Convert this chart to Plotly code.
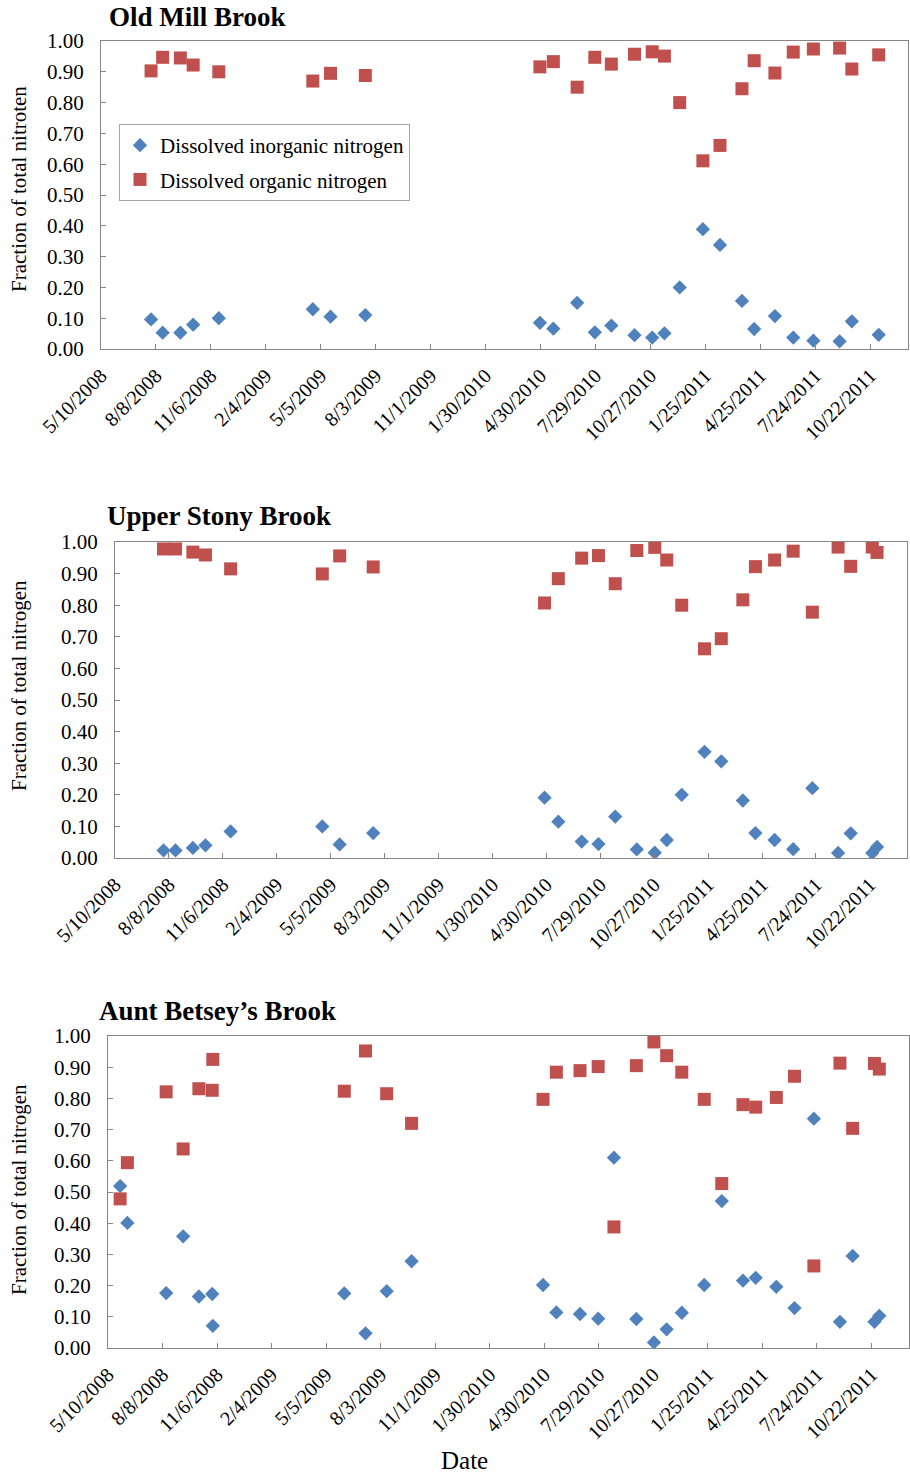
import plotly.graph_objects as go

# ---------------- data ----------------
TICK_DATES = ['2008-05-10', '2008-08-08', '2008-11-06', '2009-02-04', '2009-05-05',
              '2009-08-03', '2009-11-01', '2010-01-30', '2010-04-30', '2010-07-29',
              '2010-10-27', '2011-01-25', '2011-04-25', '2011-07-24', '2011-10-22']
TICK_LABELS = ['5/10/2008', '8/8/2008', '11/6/2008', '2/4/2009', '5/5/2009', '8/3/2009',
               '11/1/2009', '1/30/2010', '4/30/2010', '7/29/2010', '10/27/2010',
               '1/25/2011', '4/25/2011', '7/24/2011', '10/22/2011']
Y_TICKS = [0.0, 0.1, 0.2, 0.3, 0.4, 0.5, 0.6, 0.7, 0.8, 0.9, 1.0]
X_RANGE = ['2008-05-10', '2011-12-23']

TITLES = ['Old Mill Brook', 'Upper Stony Brook', 'Aunt Betsey\u2019s Brook']
Y_TITLES = ['Fraction of total nitroten', 'Fraction of total nitrogen', 'Fraction of total nitrogen']
SERIES_NAMES = ['Dissolved inorganic nitrogen', 'Dissolved organic nitrogen']

dates1 = ['2008-07-31', '2008-08-19', '2008-09-17', '2008-10-08', '2008-11-19', '2009-04-22',
          '2009-05-21', '2009-07-17', '2010-04-29', '2010-05-21', '2010-06-29', '2010-07-28',
          '2010-08-24', '2010-10-01', '2010-10-30', '2010-11-19', '2010-12-14', '2011-01-21',
          '2011-02-18', '2011-03-26', '2011-04-15', '2011-05-19', '2011-06-18', '2011-07-21',
          '2011-09-02', '2011-09-22', '2011-11-05']
din1 = [0.096, 0.053, 0.053, 0.079, 0.100, 0.129, 0.105, 0.110, 0.085, 0.066, 0.150, 0.054,
        0.076, 0.045, 0.037, 0.051, 0.200, 0.389, 0.338, 0.156, 0.065, 0.107, 0.037, 0.027,
        0.025, 0.090, 0.046]
don1 = [0.903, 0.947, 0.945, 0.922, 0.900, 0.870, 0.895, 0.888, 0.916, 0.933, 0.850, 0.947,
        0.925, 0.957, 0.965, 0.951, 0.800, 0.611, 0.661, 0.845, 0.936, 0.896, 0.964, 0.974,
        0.977, 0.909, 0.955]

dates2 = ['2008-07-30', '2008-08-19', '2008-09-17', '2008-10-08', '2008-11-19', '2009-04-21',
          '2009-05-20', '2009-07-15', '2010-04-27', '2010-05-20', '2010-06-28', '2010-07-26',
          '2010-08-23', '2010-09-28', '2010-10-28', '2010-11-17', '2010-12-12', '2011-01-19',
          '2011-02-16', '2011-03-24', '2011-04-14', '2011-05-16', '2011-06-16', '2011-07-18',
          '2011-08-30', '2011-09-20', '2011-10-26', '2011-11-03']
din2 = [0.024, 0.024, 0.032, 0.040, 0.084, 0.100, 0.043, 0.079, 0.191, 0.115, 0.052, 0.044,
        0.131, 0.027, 0.017, 0.057, 0.200, 0.336, 0.306, 0.182, 0.079, 0.057, 0.028, 0.221,
        0.016, 0.078, 0.016, 0.035]
don2 = [0.978, 0.978, 0.968, 0.959, 0.915, 0.899, 0.956, 0.921, 0.807, 0.884, 0.949, 0.957,
        0.868, 0.973, 0.983, 0.943, 0.800, 0.662, 0.694, 0.817, 0.922, 0.943, 0.971, 0.778,
        0.984, 0.923, 0.984, 0.967]

dates3 = ['2008-05-30', '2008-06-11', '2008-08-14', '2008-09-11', '2008-10-07', '2008-10-29',
          '2008-10-30', '2009-06-04', '2009-07-09', '2009-08-13', '2009-09-23', '2010-04-28',
          '2010-05-20', '2010-06-28', '2010-07-28', '2010-08-23', '2010-09-29', '2010-10-28',
          '2010-11-18', '2010-12-13', '2011-01-19', '2011-02-17', '2011-03-24', '2011-04-14',
          '2011-05-18', '2011-06-17', '2011-07-19', '2011-08-31', '2011-09-21', '2011-10-27',
          '2011-11-04']
din3 = [0.519, 0.401, 0.176, 0.358, 0.165, 0.173, 0.071, 0.175, 0.047, 0.182, 0.278, 0.202,
        0.114, 0.109, 0.094, 0.610, 0.093, 0.018, 0.060, 0.113, 0.202, 0.471, 0.216, 0.225,
        0.196, 0.128, 0.735, 0.084, 0.295, 0.084, 0.103]
don3 = [0.478, 0.594, 0.821, 0.638, 0.831, 0.826, 0.925, 0.823, 0.952, 0.815, 0.720, 0.797,
        0.884, 0.889, 0.902, 0.388, 0.905, 0.981, 0.937, 0.884, 0.797, 0.527, 0.780, 0.772,
        0.803, 0.871, 0.263, 0.913, 0.704, 0.912, 0.894]

PANELS = [(dates1, din1, don1), (dates2, din2, don2), (dates3, din3, don3)]

# ---------------- layout constants ----------------
W, H = 910, 1477
# plot areas in pixels: (left, right, top, bottom)
BOXES = [(101, 908, 41, 349), (115, 907, 542, 858), (108, 909, 1036, 1348)]
TITLE_POS = [(107, 17), (105, 516), (97, 1011)]
YTITLE_POS = [(19, 189), (19, 686), (19, 1190)]

BLUE = '#4F81BD'
RED = '#C0504D'
AXIS = '#868686'
FONT = 'Liberation Serif, Times New Roman, serif'

fig = go.Figure()
layout = dict(
    width=W, height=H,
    margin=dict(l=0, r=0, t=0, b=0, autoexpand=False),
    paper_bgcolor='white', plot_bgcolor='white',
    font=dict(family=FONT, size=20, color='black'),
    showlegend=True,
    legend=dict(x=119 / W, y=1 - 124 / H, xanchor='left', yanchor='top',
                bgcolor='white', bordercolor='#A6A6A6', borderwidth=1,
                font=dict(family=FONT, size=21, color='black'),
                tracegroupgap=4, itemwidth=30),
)
annotations = []

for i, ((dates, din, don), box) in enumerate(zip(PANELS, BOXES)):
    l, r, t, b = box
    xa = 'x' if i == 0 else f'x{i + 1}'
    ya = 'y' if i == 0 else f'y{i + 1}'
    xkey = 'xaxis' if i == 0 else f'xaxis{i + 1}'
    ykey = 'yaxis' if i == 0 else f'yaxis{i + 1}'
    fig.add_trace(go.Scatter(
        x=dates, y=din, mode='markers', name=SERIES_NAMES[0],
        marker=dict(symbol='diamond', size=11, color=BLUE),
        xaxis=xa, yaxis=ya, showlegend=(i == 0), legendgroup='a'))
    fig.add_trace(go.Scatter(
        x=dates, y=don, mode='markers', name=SERIES_NAMES[1],
        marker=dict(symbol='square', size=13, color=RED),
        xaxis=xa, yaxis=ya, showlegend=(i == 0), legendgroup='b'))
    layout[xkey] = dict(
        domain=[l / W, r / W], anchor=ya, type='date', range=X_RANGE,
        tickmode='array', tickvals=TICK_DATES, ticktext=TICK_LABELS,
        tickangle=-45, tickfont=dict(family=FONT, size=20),
        ticks='inside', ticklen=5, tickcolor=AXIS, tickwidth=1,
        showline=True, linecolor=AXIS, linewidth=1.3, mirror=True,
        showgrid=False, zeroline=False, ticklabelstandoff=6, automargin=False)
    layout[ykey] = dict(
        domain=[1 - b / H, 1 - t / H], anchor=xa, range=[0, 1],
        tickmode='array', tickvals=Y_TICKS, tickformat='.2f',
        tickfont=dict(family=FONT, size=21),
        ticks='inside', ticklen=5, tickcolor=AXIS, tickwidth=1,
        showline=True, linecolor=AXIS, linewidth=1.3, mirror=True,
        showgrid=False, zeroline=False, ticklabelstandoff=12, automargin=False)
    tx, ty = TITLE_POS[i]
    annotations.append(dict(
        x=tx / W, y=1 - ty / H, xref='paper', yref='paper', xanchor='left', yanchor='middle',
        text=f'<b>{TITLES[i]}</b>', showarrow=False,
        font=dict(family=FONT, size=27, color='black')))
    yx, yy = YTITLE_POS[i]
    annotations.append(dict(
        x=yx / W, y=1 - yy / H, xref='paper', yref='paper', xanchor='center', yanchor='middle',
        text=Y_TITLES[i], textangle=-90, showarrow=False,
        font=dict(family=FONT, size=21, color='black')))

annotations.append(dict(
    x=465 / W, y=1 - 1460 / H, xref='paper', yref='paper', xanchor='center', yanchor='middle',
    text='Date', showarrow=False, font=dict(family=FONT, size=25, color='black')))

layout['annotations'] = annotations
fig.update_layout(**layout)
fig.write_html('out.html')
